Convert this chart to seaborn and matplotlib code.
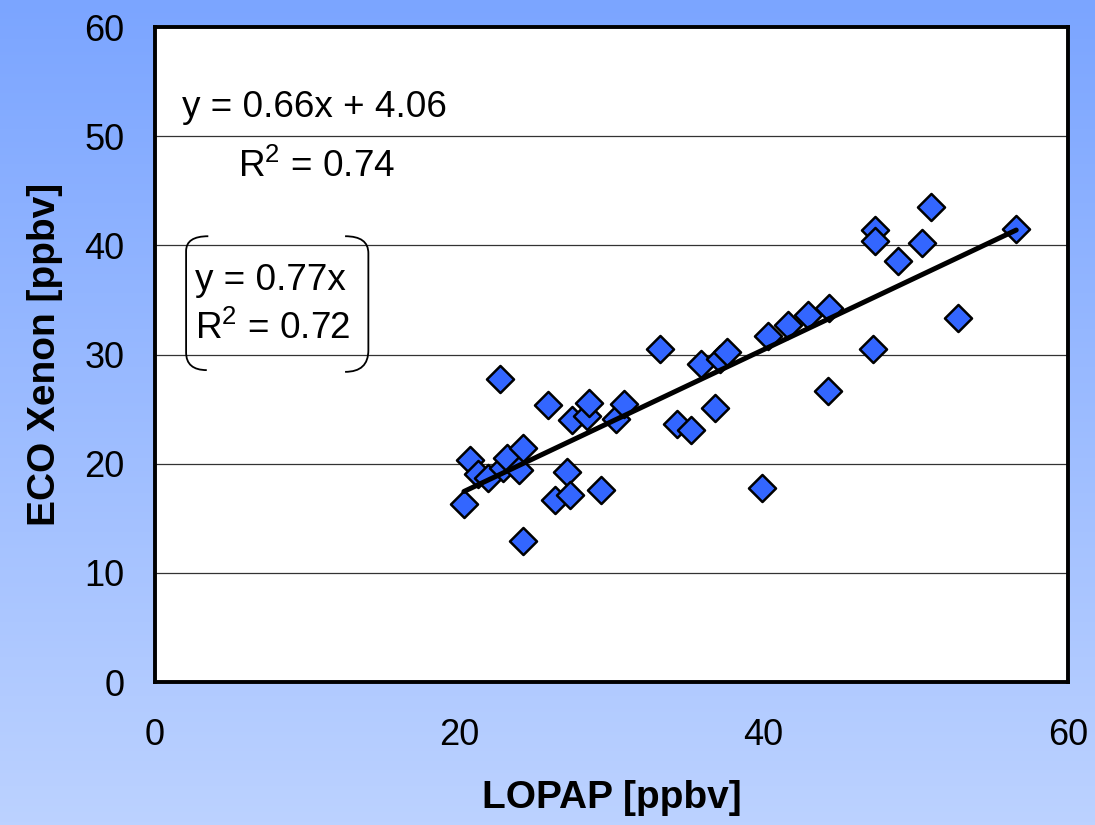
import numpy as np
import pandas as pd
import seaborn as sns
import matplotlib.pyplot as plt
from matplotlib.path import Path
from matplotlib.patches import PathPatch

# LOPAP vs ECO Xenon (ppbv)
lopap = [20.3, 20.7, 21.2, 21.9, 22.7, 22.9, 23.1, 23.9, 24.2, 24.2,
         25.8, 26.3, 27.1, 27.3, 27.4, 28.4, 28.5, 29.3, 30.3, 30.8,
         33.2, 34.3, 35.2, 35.9, 36.8, 37.1, 37.6, 39.9, 40.3, 41.6,
         42.9, 44.2, 44.3, 47.2, 47.3, 47.3, 48.8, 50.4, 51.0, 52.8, 56.6]
eco = [16.3, 20.3, 19.1, 18.7, 27.8, 19.6, 20.5, 19.4, 21.4, 12.9,
       25.4, 16.7, 19.2, 17.1, 24.0, 24.4, 25.6, 17.6, 24.1, 25.5,
       30.5, 23.6, 23.1, 29.1, 25.1, 29.6, 30.2, 17.8, 31.7, 32.7,
       33.6, 26.7, 34.3, 30.5, 41.4, 40.4, 38.6, 40.2, 43.5, 33.4, 41.5]
slope = 0.66
intercept = 4.06

df = pd.DataFrame({'LOPAP': lopap, 'ECO': eco})

sns.set_style('white')
plt.rcParams['font.family'] = ['Liberation Sans', 'DejaVu Sans']
plt.rcParams['mathtext.fontset'] = 'custom'
plt.rcParams['mathtext.rm'] = 'Liberation Sans'
plt.rcParams['mathtext.it'] = 'Liberation Sans:italic'
plt.rcParams['text.color'] = 'black'
plt.rcParams['axes.labelcolor'] = 'black'
plt.rcParams['xtick.labelcolor'] = 'black'
plt.rcParams['ytick.labelcolor'] = 'black'

fig = plt.figure(figsize=(10.95, 8.25), dpi=100)

# blue gradient background
bg = fig.add_axes([0, 0, 1, 1], zorder=-10)
top = np.array([123, 165, 255]) / 255
bot = np.array([188, 210, 255]) / 255
t = np.linspace(0, 1, 256)[:, None, None]
grad = top * (1 - t) + bot * t
bg.imshow(grad, aspect='auto', extent=[0, 1, 0, 1])
bg.axis('off')

ax = fig.add_axes([0.1416, 0.1733, 0.8337, 0.7937])
ax.set_facecolor('white')

sns.scatterplot(data=df, x='LOPAP', y='ECO', marker='D', s=190,
                color='#3366ff', edgecolor='black', linewidth=1.8,
                zorder=3, ax=ax)

xfit = np.array([df['LOPAP'].min(), df['LOPAP'].max()])
sns.lineplot(x=xfit, y=slope * xfit + intercept, color='black', lw=3.6,
             zorder=4, ax=ax)

ax.set_xlim(0, 60)
ax.set_ylim(0, 60)
ax.set_xticks([0, 20, 40, 60])
ax.set_yticks(range(0, 61, 10))
ax.yaxis.grid(True, color='#333333', lw=0.9)
ax.set_axisbelow(True)
ax.tick_params(axis='both', direction='in', length=7, width=0.8,
               labelsize=26, color='#333333')
ax.tick_params(axis='x', pad=26)
ax.tick_params(axis='y', pad=22)
for sp in ax.spines.values():
    sp.set_color('black')
    sp.set_linewidth(2.8)

ax.set_xlabel('LOPAP [ppbv]', fontsize=28, fontweight='bold', labelpad=19)
ax.set_ylabel('ECO Xenon [ppbv]', fontsize=28, fontweight='bold', labelpad=15)

ax.text(1.77, 52.6, f'y = {slope:.2f}x + {intercept:.2f}', fontsize=26.6,
        va='center', ha='left')
ax.text(5.45, 47.2, r'R$^{\mathregular{2}}$ = 0.74', fontsize=26.6,
        va='center', ha='left')
ax.text(2.63, 36.8, 'y = 0.77x', fontsize=26.6, va='center', ha='left')
ax.text(2.63, 32.4, r'R$^{\mathregular{2}}$ = 0.72', fontsize=26.6,
        va='center', ha='left')

# bracket-shaped frame around the forced-through-zero fit
C3, L2 = Path.CURVE3, Path.LINETO
left = Path([(3.5, 40.85), (2.04, 40.85), (2.04, 39.5), (2.04, 30.2),
             (2.04, 28.58), (3.4, 28.58)],
            [Path.MOVETO, C3, C3, L2, C3, C3])
right = Path([(12.49, 40.85), (14.02, 40.85), (14.02, 39.3), (14.02, 30.4),
              (14.02, 28.42), (12.49, 28.42)],
             [Path.MOVETO, C3, C3, L2, C3, C3])
for p in (left, right):
    ax.add_patch(PathPatch(p, fill=False, lw=1.3, color='black', zorder=5))

fig.savefig('out.png', dpi=100)
